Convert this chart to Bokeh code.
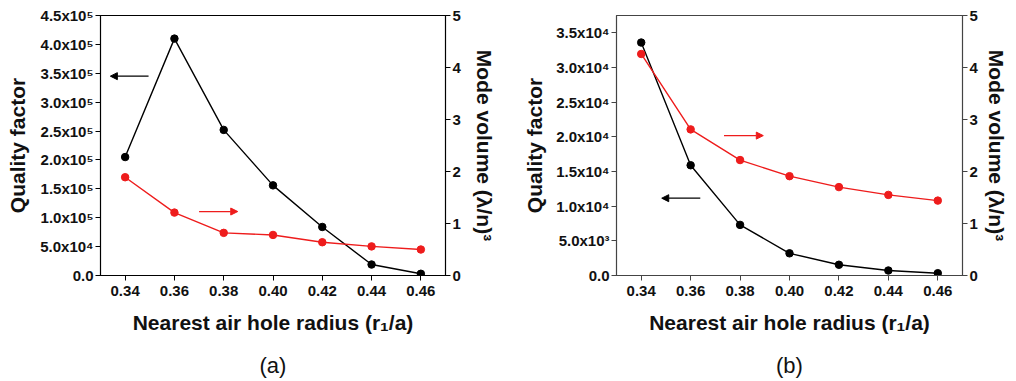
from bokeh.plotting import figure
from bokeh.models import Range1d, LinearAxis, FixedTicker, Arrow, NormalHead
from bokeh.layouts import row
from bokeh.embed import file_html
from bokeh.resources import INLINE

# ---- data ----
r_over_a = [0.34, 0.36, 0.38, 0.40, 0.42, 0.44, 0.46]
x_tick_labels = ["0.34", "0.36", "0.38", "0.40", "0.42", "0.44", "0.46"]

q_a = [2.05e5, 4.10e5, 2.52e5, 1.56e5, 0.84e5, 0.19e5, 0.03e5]
v_a = [1.89, 1.21, 0.82, 0.78, 0.64, 0.56, 0.50]
q_b = [3.36e4, 1.59e4, 0.73e4, 0.32e4, 0.155e4, 0.072e4, 0.033e4]
v_b = [4.26, 2.81, 2.22, 1.91, 1.70, 1.55, 1.44]

q_a_ticks = [0, 50000, 100000, 150000, 200000, 250000, 300000, 350000, 400000, 450000]
q_a_labels = ["0.0", "5.0x10⁴", "1.0x10⁵", "1.5x10⁵", "2.0x10⁵", "2.5x10⁵",
              "3.0x10⁵", "3.5x10⁵", "4.0x10⁵", "4.5x10⁵"]
q_b_ticks = [0, 5000, 10000, 15000, 20000, 25000, 30000, 35000]
q_b_labels = ["0.0", "5.0x10³", "1.0x10⁴", "1.5x10⁴", "2.0x10⁴", "2.5x10⁴",
              "3.0x10⁴", "3.5x10⁴"]
v_ticks = [0, 1, 2, 3, 4, 5]
v_labels = ["0", "1", "2", "3", "4", "5"]

# arrows: (x_start, x_end, y, axis)
arrows_a = [(0.3495, 0.3340, 3.45e5, "left"), (0.3700, 0.3857, 1.23, "right")]
arrows_b = [(0.3639, 0.3483, 1.115e4, "left"), (0.3735, 0.3894, 2.69, "right")]

FONT = "Liberation Sans"
BLACK = "#000000"
RED = "#ee1c1c"


def style_axis(ax, color):
    ax.axis_line_color = color
    ax.major_tick_line_color = color
    ax.minor_tick_line_color = None
    ax.major_tick_out = 5
    ax.major_tick_in = 0
    ax.major_label_text_font = FONT
    ax.major_label_text_font_style = "bold"
    ax.major_label_text_font_size = "15px"
    ax.major_label_text_color = "#111111"
    ax.axis_label_text_font = FONT
    ax.axis_label_text_font_style = "bold"
    ax.axis_label_text_font_size = "21px"
    ax.axis_label_text_color = "#111111"


def panel(q, v, q_ticks, q_labels, q_max, arrows, caption, frame_color,
          bl, br, left_label_standoff, right_label_standoff):
    p = figure(width=508, height=380, output_backend="svg", toolbar_location=None,
               x_range=Range1d(0.33, 0.47), y_range=Range1d(0, q_max),
               min_border_left=bl, min_border_right=br, min_border_top=15,
               min_border_bottom=105)
    p.extra_y_ranges = {"right": Range1d(0, 5)}
    p.xgrid.visible = False
    p.ygrid.visible = False
    p.outline_line_color = frame_color
    p.outline_line_width = 1.2
    p.background_fill_color = "white"
    p.border_fill_color = "white"

    xa = p.xaxis[0]
    style_axis(xa, frame_color)
    xa.ticker = FixedTicker(ticks=r_over_a)
    xa.major_label_overrides = dict(zip(r_over_a, x_tick_labels))
    xa.major_label_standoff = 5
    xa.axis_label = "Nearest air hole radius (r₁/a)"
    xa.axis_label_standoff = 12

    # caption "(a)"/"(b)" as a tickless second bottom axis
    cap = LinearAxis(ticker=FixedTicker(ticks=[]), axis_label=caption)
    cap.axis_line_color = None
    cap.major_tick_line_color = None
    cap.minor_tick_line_color = None
    cap.major_tick_out = 0
    cap.major_label_standoff = 0
    cap.axis_label_standoff = 16
    cap.axis_label_text_font = FONT
    cap.axis_label_text_font_style = "normal"
    cap.axis_label_text_font_size = "22px"
    cap.axis_label_text_color = "#111111"
    p.add_layout(cap, "below")

    ya = p.yaxis[0]
    style_axis(ya, frame_color)
    ya.ticker = FixedTicker(ticks=q_ticks)
    ya.major_label_overrides = dict(zip(q_ticks, q_labels))
    ya.major_label_standoff = 2
    ya.axis_label = "Quality factor"
    ya.axis_label_standoff = left_label_standoff

    ra = LinearAxis(y_range_name="right", ticker=FixedTicker(ticks=v_ticks),
                    axis_label="Mode volume (λ/n)³")
    style_axis(ra, frame_color)
    ra.major_label_overrides = dict(zip(v_ticks, v_labels))
    ra.major_label_standoff = 2
    ra.axis_label_standoff = right_label_standoff
    p.add_layout(ra, "right")

    p.line(r_over_a, q, line_color=BLACK, line_width=1.4)
    p.scatter(r_over_a, q, size=7.5, fill_color=BLACK, line_color=BLACK)
    p.line(r_over_a, v, line_color=RED, line_width=1.4, y_range_name="right")
    p.scatter(r_over_a, v, size=7.5, fill_color=RED, line_color=RED, y_range_name="right")

    for xs, xe, yy, side in arrows:
        col = BLACK if side == "left" else RED
        kw = {"y_range_name": "right"} if side == "right" else {}
        p.add_layout(Arrow(x_start=xs, y_start=yy, x_end=xe, y_end=yy,
                           line_color=col, line_width=1.3,
                           end=NormalHead(size=7, fill_color=col, line_color=col),
                           **kw))
    return p


pa = panel(q_a, v_a, q_a_ticks, q_a_labels, 450000, arrows_a, "(a)", "#000000",
           100, 63, 8, 9)
pb = panel(q_b, v_b, q_b_ticks, q_b_labels, 37500, arrows_b, "(b)", "#444444",
           108, 54, 7, 4)

layout = row(pa, pb)
open("out.html", "w").write(file_html(layout, INLINE))
